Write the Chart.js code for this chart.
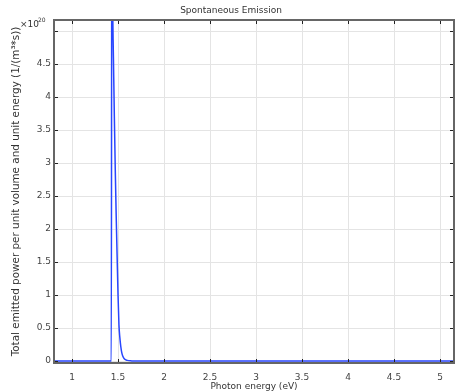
<!DOCTYPE html>
<html>
<head>
<meta charset="utf-8">
<script src="https://cdn.jsdelivr.net/npm/chart.js@4"></script>
<style>
  html, body { margin: 0; padding: 0; background: #fff; }
  #wrap { width: 455px; height: 392px; }
</style>
</head>
<body>
<div id="wrap"><canvas id="chart" width="455" height="392"></canvas></div>
<script>
// photon energy (eV) and emission (x1e20 1/(m^3*s))
const energy = [0.80, 1.40, 1.427, 1.432, 1.44, 1.45, 1.46, 1.47, 1.48, 1.49, 1.50, 1.51, 1.52, 1.53, 1.54, 1.55, 1.57, 1.60, 1.65, 1.70, 5.20];
const emission = [0, 0, 0, 7.0, 5.5, 4.6, 3.7, 2.9, 2.2, 1.6, 1.0, 0.55, 0.35, 0.22, 0.13, 0.08, 0.03, 0.01, 0.002, 0, 0];
const chartTitle = 'Spontaneous Emission';
const xTitle = 'Photon energy (eV)';
const yTitle = 'Total emitted power per unit volume and unit energy (1/(m\u00b3*s))';

const points = energy.map((e, i) => ({ x: e, y: emission[i] }));
const font = { family: 'DejaVu Sans', size: 9 };

const framePlugin = {
  id: 'frame',
  afterDraw(chart) {
    const { ctx, chartArea: a, scales } = chart;
    ctx.save();
    // inner ticks on all four sides
    ctx.strokeStyle = '#222';
    ctx.lineWidth = 1;
    ctx.beginPath();
    scales.x.ticks.forEach(t => {
      const px = Math.round(scales.x.getPixelForValue(t.value)) + 0.5;
      ctx.moveTo(px, a.bottom); ctx.lineTo(px, a.bottom - 4);
      ctx.moveTo(px, a.top); ctx.lineTo(px, a.top + 4);
    });
    scales.y.ticks.forEach(t => {
      const py = Math.round(scales.y.getPixelForValue(t.value)) + 0.5;
      ctx.moveTo(a.left, py); ctx.lineTo(a.left + 4, py);
      ctx.moveTo(a.right, py); ctx.lineTo(a.right - 4, py);
    });
    ctx.stroke();
    // frame
    ctx.strokeStyle = '#666';
    ctx.lineWidth = 2;
    ctx.strokeRect(a.left, a.top, a.right - a.left, a.bottom - a.top);
    // title
    ctx.fillStyle = '#333';
    ctx.font = '9px "DejaVu Sans"';
    ctx.textAlign = 'center';
    ctx.textBaseline = 'middle';
    ctx.fillText(chartTitle, 231, 11);
    // multiplier
    ctx.textAlign = 'left';
    ctx.textBaseline = 'alphabetic';
    ctx.fillText('\u00d710', 20, 27);
    ctx.font = '6px "DejaVu Sans"';
    ctx.fillText('20', 38, 22);
    ctx.restore();
  }
};

new Chart(document.getElementById('chart'), {
  type: 'line',
  data: {
    datasets: [{
      data: points,
      borderColor: 'rgb(40,70,255)',
      borderWidth: 1.5,
      pointRadius: 0,
      cubicInterpolationMode: 'monotone',
      fill: false
    }]
  },
  options: {
    responsive: false,
    animation: false,
    layout: { padding: { top: 20, right: 1, left: 0, bottom: 0 } },
    plugins: { legend: { display: false }, tooltip: { enabled: false } },
    scales: {
      x: {
        type: 'linear',
        min: 0.804,
        max: 5.152,
        afterFit: s => { s.height = 29; },
        grid: { color: '#e4e4e4', drawTicks: false },
        border: { display: false },
        ticks: {
          stepSize: 0.5,
          includeBounds: false,
          padding: 9,
          color: '#444',
          font,
          maxRotation: 0,
          callback: v => String(Math.round(v * 10) / 10)
        },
        title: { display: true, text: xTitle, color: '#333', font, padding: { top: 0, bottom: 0 } }
      },
      y: {
        min: -0.03,
        max: 5.167,
        afterFit: s => { s.width = 54; },
        grid: { color: '#e4e4e4', drawTicks: false },
        border: { display: false },
        ticks: {
          stepSize: 0.5,
          includeBounds: false,
          padding: 3,
          color: '#444',
          font,
          callback: v => {
            const r = Math.round(v * 10) / 10;
            return r >= 5 ? '' : String(r);
          }
        },
        title: { display: true, text: yTitle, color: '#333', font: { family: 'DejaVu Sans', size: 10.4 }, padding: { top: 10, bottom: 0 } }
      }
    }
  },
  plugins: [framePlugin]
});
</script>
</body>
</html>
